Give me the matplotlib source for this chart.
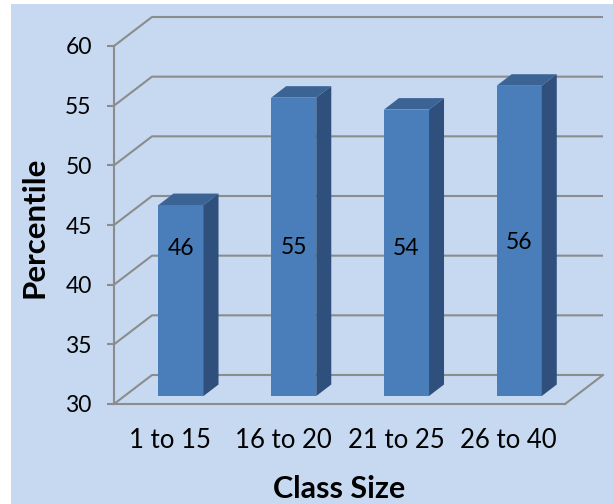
"""
Class size vs percentile, Excel-style 3D column chart.
"""
import matplotlib.pyplot as plt
from matplotlib.patches import Polygon, Rectangle

categories = ['1 to 15', '16 to 20', '21 to 25', '26 to 40']
percentile = [46, 55, 54, 56]
label_y = [43.05, 43.1, 43.05, 43.5]   # where the data labels sit
yticks = [30, 35, 40, 45, 50, 55, 60]

BG = '#c6d9f1'
GRID = '#8c8c8c'
FRONT = '#4a7ebb'
TOP = '#3b6495'
SIDE = '#2f507c'

plt.rcParams['font.family'] = ['Lato', 'DejaVu Sans']

fig = plt.figure(figsize=(6.13, 5.04), dpi=100)
fig.patch.set_facecolor('white')
fig.patches.append(Rectangle((11/613, 0), 1, 500/504, transform=fig.transFigure,
                             facecolor=BG, edgecolor='none', zorder=-10))

# front plane of the plot, in pixels: x 114..565, y 404 (30) .. 46 (60)
ax = fig.add_axes([114/613, 100/504, 451/613, 358/504])
ax.set_xlim(-0.5, 3.5)
ax.set_ylim(30, 60)
ax.patch.set_visible(False)

px_x = 451 / 4.0      # pixels per category unit
px_y = 358 / 30.0     # pixels per percentile unit

# depth of the back wall, shift of bars into the scene, depth of a bar
wall_dx, wall_dy = 38 / px_x, 29 / px_y
shift_dx, shift_dy = 10.6 / px_x, 8 / px_y
bar_dx, bar_dy = 15 / px_x, 11.5 / px_y
bar_w = 0.4

x0, x1 = ax.get_xlim()
# back wall gridlines + left wall diagonals
for v in yticks:
    ax.plot([x0, x0 + wall_dx, x1 + wall_dx], [v, v + wall_dy, v + wall_dy],
            color=GRID, lw=1.5, clip_on=False, zorder=1, solid_capstyle='butt')
# floor right diagonal
ax.plot([x1, x1 + wall_dx], [30, 30 + wall_dy], color=GRID, lw=1.5,
        clip_on=False, zorder=1)

for i, v in enumerate(percentile):
    bx = i - bar_w / 2 + shift_dx
    by = 30 + shift_dy
    top = v + shift_dy
    ax.add_patch(Rectangle((bx, by), bar_w, top - by, facecolor=FRONT,
                           edgecolor='none', zorder=3, clip_on=False))
    ax.add_patch(Polygon([(bx, top), (bx + bar_w, top),
                          (bx + bar_w + bar_dx, top + bar_dy), (bx + bar_dx, top + bar_dy)],
                         closed=True, facecolor=TOP, edgecolor='none', zorder=3, clip_on=False))
    ax.add_patch(Polygon([(bx + bar_w, by), (bx + bar_w + bar_dx, by + bar_dy),
                          (bx + bar_w + bar_dx, top + bar_dy), (bx + bar_w, top)],
                         closed=True, facecolor=SIDE, edgecolor='none', zorder=3, clip_on=False))
    ax.text(bx + bar_w / 2, label_y[i], str(v), ha='center', va='center',
            fontsize=16.5, color='black', zorder=4)

for s in ['top', 'right']:
    ax.spines[s].set_visible(False)
for s in ['left', 'bottom']:
    ax.spines[s].set_color(GRID)
    ax.spines[s].set_linewidth(1.5)

ax.set_yticks(yticks)
ax.set_yticklabels([str(t) for t in yticks], fontsize=16.5)
ax.tick_params(axis='y', length=5, width=1.5, color=GRID, pad=11)
ax.set_xticks(range(len(categories)))
ax.set_xticklabels(categories, fontsize=18.5)
ax.tick_params(axis='x', length=0, pad=17)

fig.text(339/613, 1 - 489/504, 'Class Size', ha='center', va='center',
         fontsize=22, fontweight='bold')
fig.text(35/613, 1 - 227/504, 'Percentile', ha='center', va='center',
         rotation=90, fontsize=22.5, fontweight='bold')

fig.savefig('out.png', dpi=100, facecolor=fig.get_facecolor())
